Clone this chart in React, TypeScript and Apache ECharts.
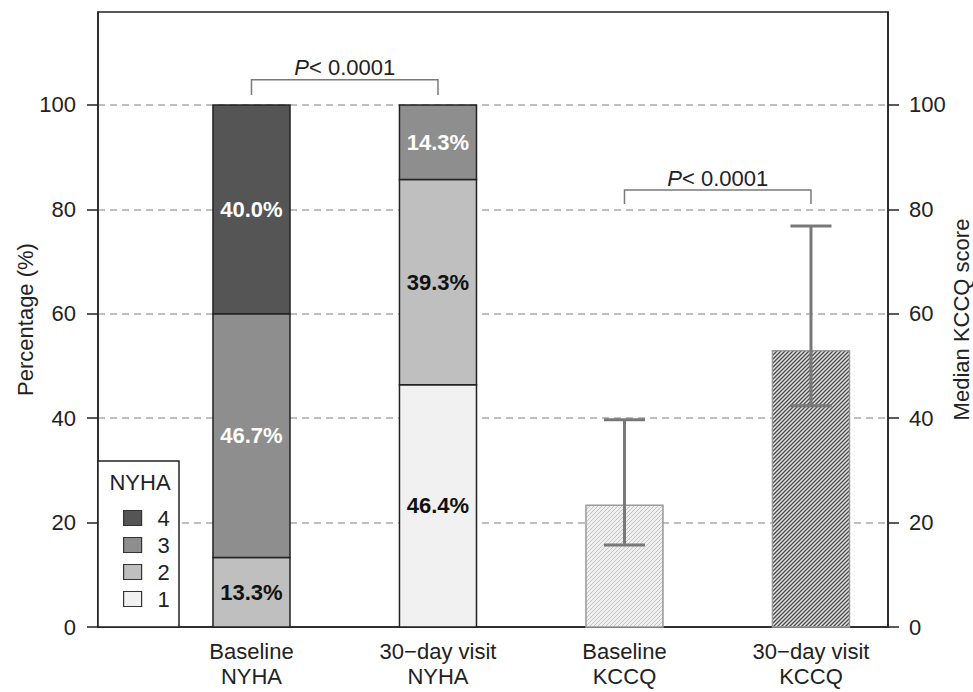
import React, { useEffect, useRef } from "react";
import * as echarts from "echarts";

// ---------- data ----------
const categories = ["Baseline\nNYHA", "30\u2212day visit\nNYHA", "Baseline\nKCCQ", "30\u2212day visit\nKCCQ"];
const categoryPositions = [1, 2, 3, 4];
const nyhaClasses = ["1", "2", "3", "4"];
const nyhaBaseline = [0, 13.3, 46.7, 40.0]; // classes 1..4
const nyha30Day = [46.4, 39.3, 14.3, 0]; // classes 1..4
const kccqMedian = [23.3, 52.9];
const kccqLower = [15.7, 42.4];
const kccqUpper = [39.7, 76.8];
const yTicks = [0, 20, 40, 60, 80, 100];
const bracketFrom = [1, 3];
const bracketTo = [2, 4];
const bracketLevel = [104.8, 83.7];
const bracketFoot = [101.9, 81.0];
const bracketItalic = ["P", "P"];
const bracketText = ["< 0.0001", "< 0.0001"];

// ---------- styling ----------
const FONT = '"Liberation Sans", Arial, Helvetica, sans-serif';
const nyhaColors: Record<string, string> = { "1": "#f1f1f1", "2": "#bfbfbf", "3": "#8e8e8e", "4": "#555555" };
const nyhaTextColors: Record<string, string> = { "1": "#111111", "2": "#111111", "3": "#ffffff", "4": "#ffffff" };
const X_MIN = 0.177;
const X_MAX = 4.413;
const BAR_W = 0.413;
const CAP_W = 0.22;

function makeHatch(size: number, bg: string, line: string, lw: number) {
  const c = document.createElement("canvas");
  c.width = size;
  c.height = size;
  const ctx = c.getContext("2d")!;
  ctx.fillStyle = bg;
  ctx.fillRect(0, 0, size, size);
  ctx.strokeStyle = line;
  ctx.lineWidth = lw;
  ctx.beginPath();
  ctx.moveTo(0, size);
  ctx.lineTo(size, 0);
  ctx.moveTo(-size / 2, size / 2);
  ctx.lineTo(size / 2, -size / 2);
  ctx.moveTo(size / 2, size * 1.5);
  ctx.lineTo(size * 1.5, size / 2);
  ctx.stroke();
  return { image: c, repeat: "repeat", imageWidth: size, imageHeight: size };
}

export default function App() {
  const ref = useRef<HTMLDivElement>(null);

  useEffect(() => {
    document.body.style.margin = "0";
    if (!ref.current) return;
    const chart = echarts.init(ref.current, undefined, { renderer: "svg" });

    const patterns = [
      makeHatch(4, "#efefef", "#c4c4c4", 1),
      makeHatch(4, "#e4e4e4", "#4a4a4a", 1.3),
    ];

    // build stacked segments per class
    const nyhaSeries = nyhaClasses.map((cls, ci) => {
      const data = [nyhaBaseline, nyha30Day].map((arr, gi) => {
        let start = 0;
        for (let k = 0; k < ci; k++) start += arr[k];
        return [categoryPositions[gi], start, start + arr[ci], arr[ci]];
      });
      return {
        type: "custom",
        name: cls,
        itemStyle: { color: nyhaColors[cls], borderColor: "#222", borderWidth: 1.2 },
        encode: { x: 0, y: [1, 2] },
        data,
        renderItem: (params: any, api: any) => {
          const x = api.value(0);
          const y0 = api.value(1);
          const y1 = api.value(2);
          const v = api.value(3);
          if (!(v > 0)) return null;
          const p0 = api.coord([x, y0]);
          const p1 = api.coord([x, y1]);
          const w = api.size([BAR_W, 0])[0];
          return {
            type: "group",
            children: [
              {
                type: "rect",
                shape: { x: p0[0] - w / 2, y: p1[1], width: w, height: p0[1] - p1[1] },
                style: { fill: nyhaColors[cls], stroke: "#222", lineWidth: 1.5 },
              },
              {
                type: "text",
                style: {
                  text: v.toFixed(1) + "%",
                  x: p0[0],
                  y: (p0[1] + p1[1]) / 2,
                  align: "center",
                  verticalAlign: "middle",
                  fill: nyhaTextColors[cls],
                  fontSize: 22,
                  fontWeight: "bold",
                  fontFamily: FONT,
                },
              },
            ],
          };
        },
      };
    });

    const kccqData = kccqMedian.map((m, i) => [categoryPositions[2 + i], m, kccqLower[i], kccqUpper[i]]);
    const kccqSeries = {
      type: "custom",
      name: "KCCQ",
      encode: { x: 0, y: [1, 2, 3] },
      data: kccqData,
      renderItem: (params: any, api: any) => {
        const x = api.value(0);
        const base = api.coord([x, 0]);
        const top = api.coord([x, api.value(1)]);
        const lo = api.coord([x, api.value(2)]);
        const hi = api.coord([x, api.value(3)]);
        const w = api.size([BAR_W, 0])[0];
        const cw = api.size([CAP_W, 0])[0];
        const errStyle = { stroke: "#787878", lineWidth: 3 };
        return {
          type: "group",
          children: [
            {
              type: "rect",
              shape: { x: base[0] - w / 2, y: top[1], width: w, height: base[1] - top[1] },
              style: { fill: patterns[params.dataIndex] as any, stroke: "#9a9a9a", lineWidth: 1.5 },
            },
            { type: "line", shape: { x1: lo[0], y1: lo[1], x2: hi[0], y2: hi[1] }, style: errStyle },
            { type: "line", shape: { x1: lo[0] - cw / 2, y1: lo[1], x2: lo[0] + cw / 2, y2: lo[1] }, style: errStyle },
            { type: "line", shape: { x1: hi[0] - cw / 2, y1: hi[1], x2: hi[0] + cw / 2, y2: hi[1] }, style: errStyle },
          ],
        };
      },
    };

    const bracketData = bracketFrom.map((f, i) => [f, bracketTo[i], bracketLevel[i], bracketFoot[i]]);
    const bracketSeries = {
      type: "custom",
      name: "P",
      encode: { x: [0, 1], y: [2, 3] },
      data: bracketData,
      renderItem: (params: any, api: any) => {
        const i = params.dataIndex;
        const a = api.coord([api.value(0), api.value(2)]);
        const b = api.coord([api.value(1), api.value(2)]);
        const af = api.coord([api.value(0), api.value(3)]);
        const bf = api.coord([api.value(1), api.value(3)]);
        return {
          type: "group",
          children: [
            {
              type: "polyline",
              shape: { points: [af, a, b, bf] },
              style: { stroke: "#7a7a7a", lineWidth: 1.5, fill: "none" },
            },
            {
              type: "text",
              style: {
                text: "{i|" + bracketItalic[i] + "}" + bracketText[i],
                x: (a[0] + b[0]) / 2,
                y: a[1] - 1,
                align: "center",
                verticalAlign: "bottom",
                fill: "#222",
                fontSize: 22,
                fontFamily: FONT,
                rich: { i: { fontStyle: "italic", fontSize: 22, fontFamily: FONT, fill: "#222" } },
              },
            },
          ],
        };
      },
    };

    const yAxisCommon = {
      type: "value",
      min: 0,
      max: 117.8,
      interval: 20,
      axisLine: { show: true, lineStyle: { color: "#222", width: 1.5 } },
      axisTick: { show: true, length: 11, customValues: yTicks, lineStyle: { color: "#222", width: 1.5 } },
      axisLabel: { customValues: yTicks, color: "#222", fontSize: 22, fontFamily: FONT, margin: 22 },
      nameLocation: "middle",
      nameGap: 62,
      nameMoveOverlap: false,
      nameTextStyle: { color: "#222", fontSize: 22, fontFamily: FONT },
    };

    chart.setOption({
      animation: false,
      backgroundColor: "#ffffff",
      grid: {
        left: 98,
        right: 85,
        top: 12,
        bottom: 65,
        show: true,
        borderColor: "#222",
        borderWidth: 1.5,
        containLabel: false,
        outerBoundsMode: "none",
      },
      xAxis: {
        type: "value",
        min: X_MIN,
        max: X_MAX,
        axisLine: { show: true, lineStyle: { color: "#222", width: 1.5 } },
        axisTick: { show: false },
        splitLine: { show: false },
        axisLabel: {
          customValues: categoryPositions,
          formatter: (v: number) => categories[Math.round(v) - 1] ?? "",
          color: "#222",
          fontSize: 22,
          fontFamily: FONT,
          lineHeight: 25,
          margin: 12,
        },
      },
      yAxis: [
        {
          ...yAxisCommon,
          position: "left",
          name: "Percentage (%)",
          splitLine: {
            show: true,
            showMinLine: false,
            lineStyle: { color: "#aaaaaa", width: 1.5, type: [7, 5] },
          },
        },
        {
          ...yAxisCommon,
          position: "right",
          name: "Median KCCQ score",
          axisLabel: { ...yAxisCommon.axisLabel, margin: 21 },
          splitLine: { show: false },
        },
      ],
      legend: {
        data: ["4", "3", "2", "1"],
        orient: "vertical",
        left: 118,
        top: 502,
        icon: "rect",
        itemWidth: 18,
        itemHeight: 15,
        itemGap: 5,
        selectedMode: false,
        itemStyle: { borderColor: "#333", borderWidth: 1.2 },
        textStyle: { color: "#222", fontSize: 22, fontFamily: FONT, padding: [0, 0, 0, 11] },
        z: 6,
      },
      graphic: [
        {
          type: "rect",
          z: 5,
          shape: { x: 98, y: 461, width: 81, height: 166 },
          style: { fill: "#ffffff", stroke: "#222", lineWidth: 1.5 },
        },
        {
          type: "text",
          z: 6,
          style: {
            text: "NYHA",
            x: 140,
            y: 482,
            align: "center",
            verticalAlign: "middle",
            fill: "#222",
            fontSize: 22,
            fontFamily: FONT,
          },
        },
      ],
      series: [...nyhaSeries, kccqSeries, bracketSeries],
    } as any);

    return () => chart.dispose();
  }, []);

  return <div ref={ref} style={{ width: 973, height: 692 }} />;
}
